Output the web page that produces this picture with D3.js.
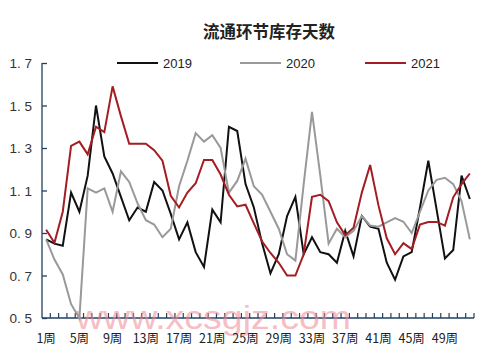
<!DOCTYPE html>
<html><head><meta charset="utf-8">
<script src="https://cdn.jsdelivr.net/npm/d3@7"></script>
<style>
html,body{margin:0;padding:0;background:#fff;}
svg{display:block;}
</style></head>
<body>
<svg id="chart" width="500" height="360"></svg>
<script>
const title = "流通环节库存天数";
const weeks = d3.range(1, 53).map(i => i + "周");
const seriesNames = ["2019", "2020", "2021"];
const seriesColors = ["#111111", "#999999", "#a31d22"];
const yTicks = [0.5, 0.7, 0.9, 1.1, 1.3, 1.5, 1.7];
const v2019 = [0.87,0.85,0.84,1.09,1.00,1.17,1.50,1.26,1.18,1.07,
               0.96,1.02,1.00,1.14,1.10,0.99,0.87,0.95,0.81,0.74,
               1.01,0.95,1.40,1.38,1.13,1.02,0.85,0.71,0.80,0.98,
               1.07,0.80,0.88,0.81,0.80,0.76,0.91,0.79,0.98,0.93,
               0.92,0.76,0.68,0.79,0.81,1.02,1.24,1.01,0.78,0.82,
               1.17,1.06];
const v2020 = [0.87,0.775,0.705,0.565,0.50,1.11,1.09,1.11,1.00,1.19,
               1.14,1.04,0.96,0.94,0.88,0.92,1.12,1.24,1.37,1.33,
               1.36,1.30,1.09,1.145,1.25,1.12,1.08,1.00,0.92,0.80,
               0.77,1.13,1.47,1.17,0.85,0.92,0.88,0.91,0.98,0.935,
               0.93,0.95,0.97,0.953,0.90,1.00,1.10,1.15,1.16,1.13,
               1.05,0.87];
const v2021 = [0.915,0.854,1.00,1.31,1.33,1.27,1.40,1.375,1.59,1.45,
               1.32,1.32,1.32,1.29,1.24,1.075,1.02,1.09,1.134,1.244,
               1.244,1.175,1.08,1.025,1.033,0.945,0.86,0.806,0.76,0.70,
               0.70,0.80,1.07,1.08,1.05,0.95,0.89,0.925,1.09,1.22,
               1.03,0.875,0.80,0.852,0.824,0.94,0.952,0.952,0.935,1.068,
               1.13,1.18];
const watermark = "www.xcsgjz.com";

const series = [v2019, v2020, v2021];
const svg = d3.select("#chart");
const L = 42, R = 474, T = 63, B = 318;
const axisColor = "#23405f";

const x = d3.scaleBand().domain(weeks).range([L, R]).padding(0);
const y = d3.scaleLinear().domain([0.5, 1.7]).range([B, T]);

// title
svg.append("text").attr("x", 269).attr("y", 38).attr("text-anchor", "middle")
  .attr("font-family", "'Noto Sans CJK SC', sans-serif").attr("font-weight", "bold")
  .attr("font-size", 16.5).attr("fill", "#222").text(title);

// legend
const legX = [117, 240, 365];
seriesNames.forEach((n, i) => {
  const g = svg.append("g");
  g.append("line").attr("x1", legX[i]).attr("x2", legX[i] + 41).attr("y1", 63).attr("y2", 63)
    .attr("stroke", seriesColors[i]).attr("stroke-width", 2);
  g.append("text").attr("x", legX[i] + 46).attr("y", 68)
    .attr("font-family", "'Liberation Sans', Arial, sans-serif").attr("font-size", 13)
    .attr("fill", "#222").text(n);
});

// y axis
const yAxis = d3.axisRight(y).tickValues(yTicks).tickSize(5).tickFormat("");
const gy = svg.append("g").attr("transform", `translate(${L},0)`).call(yAxis);
gy.select(".domain").attr("d", `M0,${T}V${B}`).attr("stroke", axisColor).attr("stroke-width", 1.3);
gy.selectAll(".tick line").attr("stroke", axisColor).attr("stroke-width", 1.3);
yTicks.forEach(v => {
  svg.append("text").attr("x", 32).attr("y", y(v) + 5).attr("text-anchor", "end")
    .attr("font-family", "'Liberation Sans', Arial, sans-serif").attr("font-size", 13.5)
    .attr("fill", "#333").text(d3.format(".1f")(v).replace(".", ". "));
});

// x axis ticks (upward, at band boundaries)
const bounds = weeks.map(w => x(w)).concat([R]);
const gx = svg.append("g");
gx.selectAll("line.t").data(bounds.slice(1)).enter().append("line")
  .attr("x1", d => d).attr("x2", d => d).attr("y1", B).attr("y2", B - 5)
  .attr("stroke", axisColor).attr("stroke-width", 1.2);
gx.append("line").attr("x1", L).attr("x2", R).attr("y1", B).attr("y2", B)
  .attr("stroke", axisColor).attr("stroke-width", 1.4);

// watermark (behind labels)
svg.append("text").attr("x", 76).attr("y", 329).attr("textLength", 275)
  .attr("lengthAdjust", "spacingAndGlyphs")
  .attr("font-family", "'Liberation Sans', Arial, sans-serif").attr("font-size", 34)
  .attr("fill", "#f08a95").attr("opacity", 0.55).text(watermark);

weeks.forEach((w, i) => {
  if (i % 4 === 0) {
    svg.append("text").attr("x", x(w) + x.bandwidth() / 2).attr("y", 343)
      .attr("text-anchor", "middle")
      .attr("font-family", "'Noto Sans CJK SC', sans-serif").attr("font-size", 12.5)
      .attr("fill", "#222").text(w);
  }
});

// lines
const line = d3.line().x((d, i) => x(weeks[i]) + x.bandwidth() / 2).y(d => y(d));
series.forEach((s, i) => {
  svg.append("path").datum(s).attr("d", line).attr("fill", "none")
    .attr("stroke", seriesColors[i]).attr("stroke-width", 2).attr("stroke-linejoin", "miter");
});
</script>
</body></html>
